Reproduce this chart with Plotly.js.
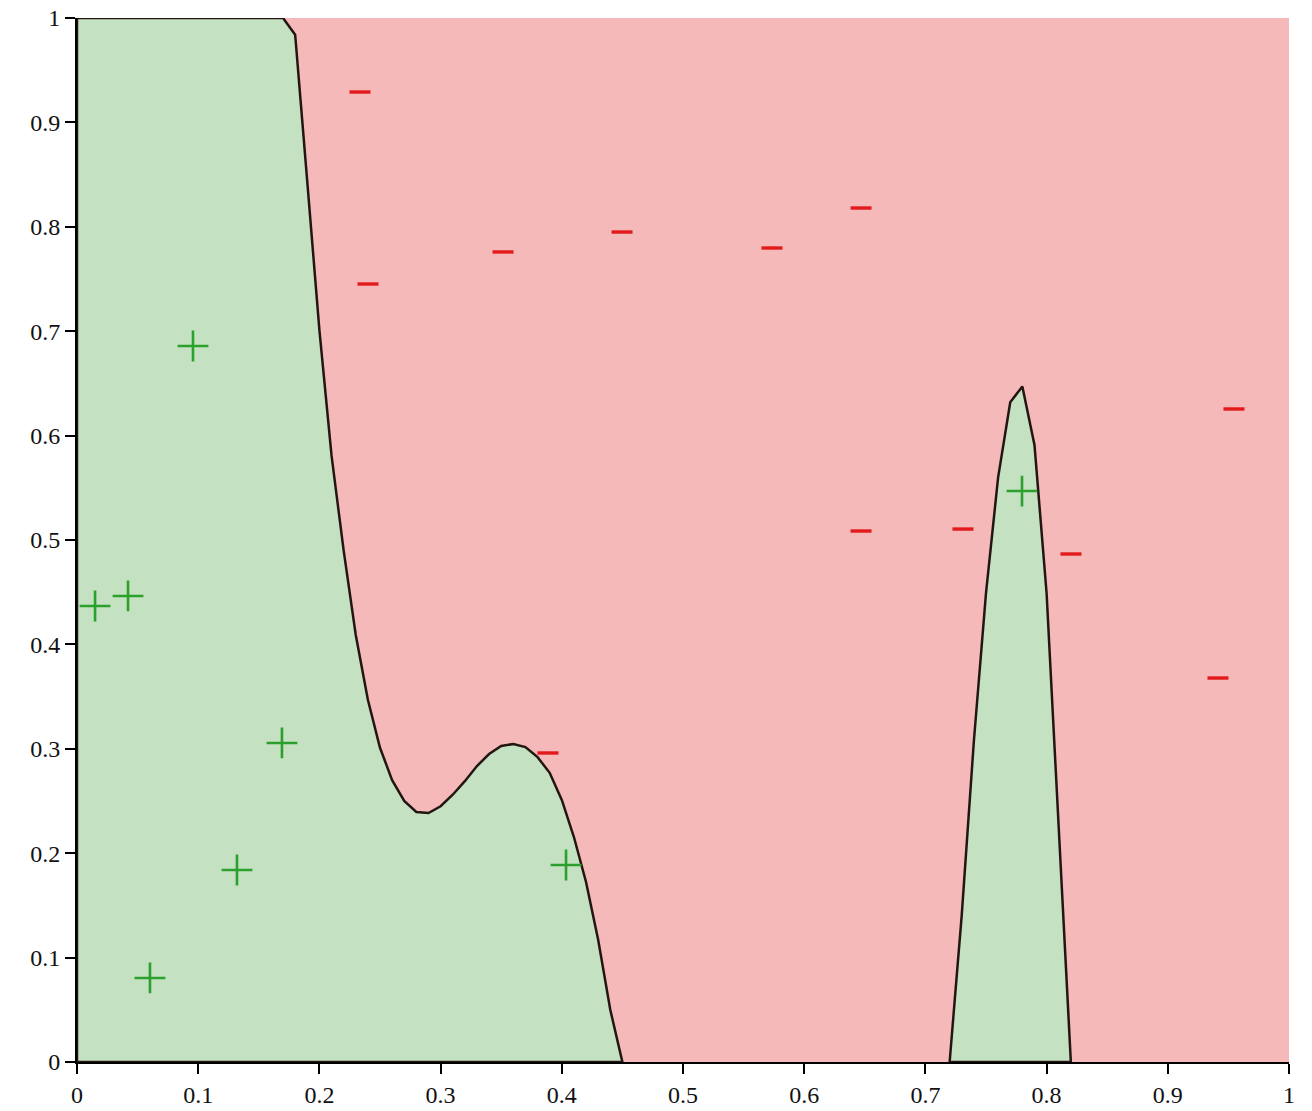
<!DOCTYPE html>
<html>
<head>
<meta charset="utf-8">
<script src="https://cdn.plot.ly/plotly-3.0.1.min.js"></script>
<style>html,body{margin:0;padding:0;background:#fff;}</style>
</head>
<body>
<div id="chart" style="width:1312px;height:1111px;"></div>
<script>
// Decision boundary, left green region (upper edge of region)
const leftX = [0, 0, 0.17, 0.18, 0.19, 0.20, 0.21, 0.22, 0.23, 0.24, 0.25, 0.26, 0.27, 0.28, 0.29, 0.30,
  0.31, 0.32, 0.33, 0.34, 0.35, 0.36, 0.37, 0.38, 0.39, 0.40, 0.41, 0.42, 0.43, 0.44, 0.45, 0];
const leftY = [0, 1, 1, 0.984, 0.843, 0.701, 0.581, 0.490, 0.409, 0.347, 0.301, 0.270, 0.250, 0.2395, 0.2385, 0.245,
  0.256, 0.269, 0.2835, 0.295, 0.3027, 0.3046, 0.3017, 0.292, 0.277, 0.251, 0.2155, 0.1724, 0.117, 0.050, 0, 0];
// Decision boundary, right green peak
const peakX = [0.72, 0.73, 0.74, 0.75, 0.76, 0.77, 0.78, 0.79, 0.80, 0.81, 0.82, 0.72];
const peakY = [0, 0.141, 0.3075, 0.449, 0.560, 0.632, 0.647, 0.591, 0.449, 0.222, 0, 0];
// Positive samples (+)
const posX = [0.0957, 0.0149, 0.0421, 0.1691, 0.1320, 0.0602, 0.4035, 0.7797];
const posY = [0.6858, 0.4368, 0.4464, 0.3056, 0.1839, 0.0805, 0.1887, 0.5469];
// Negative samples (−)
const negX = [0.2335, 0.2401, 0.3515, 0.4497, 0.5734, 0.6469, 0.6469, 0.7310, 0.8201, 0.9546, 0.9414, 0.3886];
const negY = [0.9291, 0.7452, 0.7759, 0.7950, 0.7797, 0.8180, 0.5086, 0.5105, 0.4866, 0.6255, 0.3678, 0.2960];

const greenFill = '#c4e2c2';
const pinkBg = '#f6b9ba';
const edge = '#231612';

const traces = [
  {x: leftX, y: leftY, type: 'scatter', mode: 'lines', fill: 'toself', fillcolor: greenFill,
   line: {color: edge, width: 2.5}, hoverinfo: 'skip', showlegend: false},
  {x: peakX, y: peakY, type: 'scatter', mode: 'lines', fill: 'toself', fillcolor: greenFill,
   line: {color: edge, width: 2.5}, hoverinfo: 'skip', showlegend: false},
  {x: posX, y: posY, type: 'scatter', mode: 'markers', cliponaxis: false,
   marker: {symbol: 'cross-thin', size: 22, line: {color: '#2ca02c', width: 2.6}}, showlegend: false},
  {x: negX, y: negY, type: 'scatter', mode: 'markers', cliponaxis: false,
   marker: {symbol: 'line-ew', size: 15, line: {color: '#e31a1c', width: 3.4}}, showlegend: false}
];

const axisCommon = {
  range: [0, 1], dtick: 0.1, tick0: 0, showgrid: false, zeroline: false,
  showline: true, linecolor: '#000', linewidth: 2,
  ticks: 'outside', ticklen: 10, tickwidth: 2, tickcolor: '#000',
  tickfont: {family: 'Liberation Serif, DejaVu Serif, serif', size: 24, color: '#111'},
  fixedrange: true
};

const layout = {
  width: 1312, height: 1111,
  margin: {l: 77, r: 23, t: 18, b: 49},
  paper_bgcolor: '#fff', plot_bgcolor: pinkBg,
  xaxis: Object.assign({}, axisCommon),
  yaxis: Object.assign({}, axisCommon),
  showlegend: false
};

Plotly.newPlot('chart', traces, layout, {staticPlot: true});
</script>
</body>
</html>
